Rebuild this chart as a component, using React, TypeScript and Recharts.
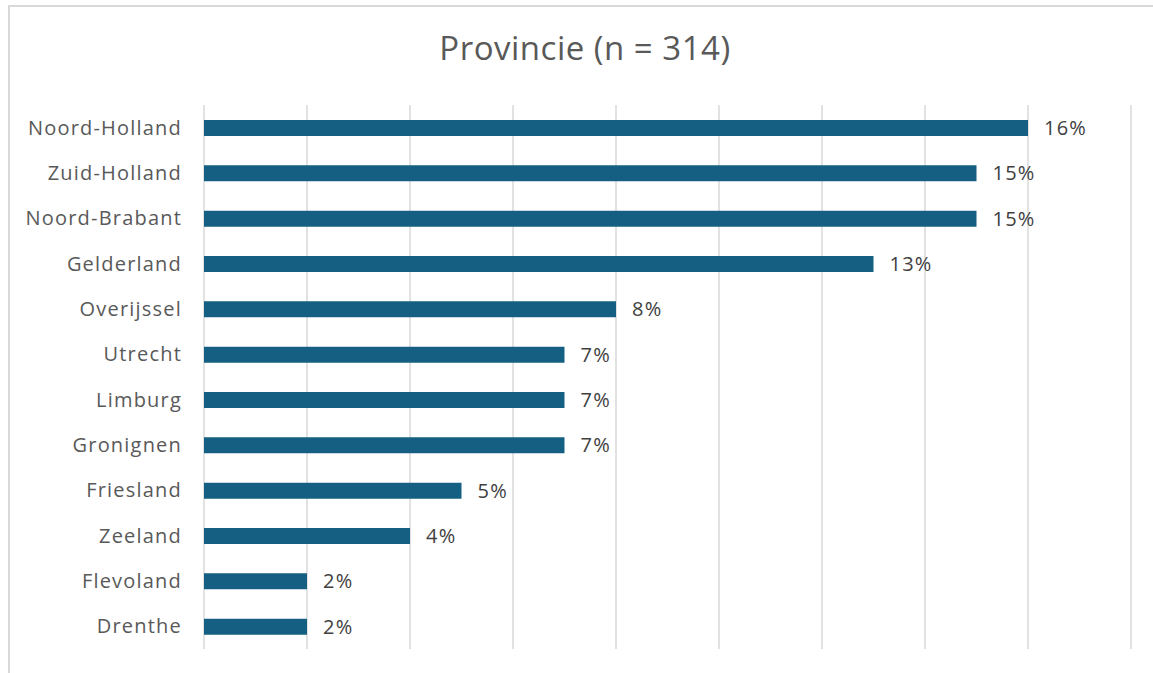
import React from "react";
import { BarChart, Bar, XAxis, YAxis, CartesianGrid, LabelList } from "recharts";

const provinces = [
  "Noord-Holland",
  "Zuid-Holland",
  "Noord-Brabant",
  "Gelderland",
  "Overijssel",
  "Utrecht",
  "Limburg",
  "Gronignen",
  "Friesland",
  "Zeeland",
  "Flevoland",
  "Drenthe",
];
const percentages = [16, 15, 15, 13, 8, 7, 7, 7, 5, 4, 2, 2];
const xTicks = [0, 2, 4, 6, 8, 10, 12, 14, 16, 18];
const title = "Provincie (n = 314)";

const data = provinces.map((name, i) => ({ name, value: percentages[i] }));

const FONT = "'Open Sans', 'Liberation Sans', sans-serif";

export default function App() {
  return (
    <div
      style={{
        position: "absolute",
        left: 0,
        top: 0,
        width: 1153,
        height: 673,
        background: "#ffffff",
        overflow: "hidden",
        fontFamily: FONT,
      }}
    >
      <div
        style={{
          position: "absolute",
          left: 8,
          top: 5,
          width: 1200,
          height: 720,
          border: "2px solid #d9d9d9",
          boxSizing: "border-box",
        }}
      />
      <div
        style={{
          position: "absolute",
          left: 0,
          top: 25,
          width: 1170,
          textAlign: "center",
          fontSize: 33,
          letterSpacing: 0.5,
          color: "#595959",
          fontFamily: FONT,
        }}
      >
        {title}
      </div>
      <div style={{ position: "absolute", left: 0, top: 0 }}>
        <BarChart
          width={1153}
          height={673}
          data={data}
          layout="vertical"
          margin={{ top: 105, right: 22, bottom: 24, left: 0 }}
          barCategoryGap={0}
        >
          <CartesianGrid
            horizontal={false}
            vertical={true}
            stroke="#d9d9d9"
            strokeWidth={1.5}
          />
          <XAxis type="number" domain={[0, 18]} ticks={xTicks} hide />
          <YAxis
            type="category"
            dataKey="name"
            width={204}
            axisLine={false}
            tickLine={false}
            tickSize={0}
            tickMargin={22}
            interval={0}
            tick={{ fill: "#595959", fontSize: 20, fontFamily: FONT, letterSpacing: 1.2 }}
          />
          <Bar dataKey="value" fill="#156082" barSize={16} isAnimationActive={false}>
            <LabelList
              dataKey="value"
              position="right"
              offset={16}
              formatter={(v: any) => `${v}%`}
              style={{ fill: "#404040", fontSize: 20, fontFamily: FONT, letterSpacing: 1.2 }}
            />
          </Bar>
        </BarChart>
      </div>
    </div>
  );
}
